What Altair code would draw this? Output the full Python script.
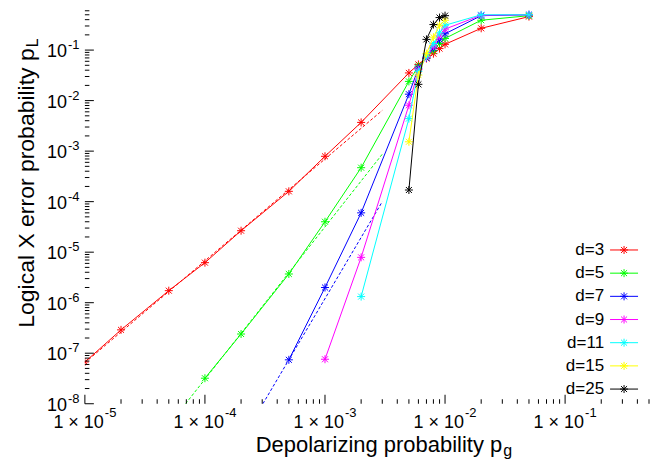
import altair as alt
import pandas as pd

labels = ["d=3", "d=5", "d=7", "d=9", "d=11", "d=15", "d=25"]
colors = ["#ff0000", "#00ff00", "#0000ff", "#ff00ff", "#00ffff", "#ffff00", "#000000"]

p_d3 = [1e-5, 2e-5, 5e-5, 1e-4, 2e-4, 5e-4, 1e-3, 2e-3, 5e-3, 6e-3, 7e-3, 8e-3, 9e-3, 1e-2, 2e-2, 5e-2]
pl_d3 = [6.7e-8, 2.9e-7, 1.73e-6, 6.2e-6, 2.66e-5, 1.6e-4, 7.9e-4, 3.7e-3, 0.0353, 0.052, 0.068, 0.085, 0.107, 0.13, 0.27, 0.46]
p_d5 = [1e-4, 2e-4, 5e-4, 1e-3, 2e-3, 5e-3, 6e-3, 7e-3, 8e-3, 9e-3, 1e-2, 2e-2, 5e-2]
pl_d5 = [3.2e-8, 2.4e-7, 3.7e-6, 4.0e-5, 4.7e-4, 0.024, 0.048, 0.07, 0.098, 0.135, 0.17, 0.39, 0.48]
p_d7 = [5e-4, 1e-3, 2e-3, 5e-3, 6e-3, 7e-3, 8e-3, 9e-3, 1e-2, 2e-2, 5e-2]
pl_d7 = [7.4e-8, 2.0e-6, 6.0e-5, 0.0134, 0.044, 0.07, 0.11, 0.16, 0.21, 0.48, 0.5]
p_d9 = [1e-3, 2e-3, 5e-3, 6e-3, 7e-3, 8e-3, 9e-3, 1e-2, 2e-2, 5e-2]
pl_d9 = [7.6e-8, 7.9e-6, 0.0081, 0.041, 0.072, 0.12, 0.19, 0.26, 0.49, 0.5]
p_d11 = [2e-3, 5e-3, 6e-3, 7e-3, 8e-3, 9e-3, 1e-2, 2e-2, 5e-2]
pl_d11 = [1.32e-6, 0.0044, 0.038, 0.075, 0.135, 0.22, 0.31, 0.5, 0.5]
p_d15 = [5e-3, 6e-3, 7e-3, 8e-3, 9e-3, 1e-2]
pl_d15 = [1.53e-3, 0.032, 0.085, 0.18, 0.31, 0.39]
p_d25 = [5e-3, 6e-3, 7e-3, 8e-3, 9e-3, 1e-2]
pl_d25 = [1.7e-4, 0.021, 0.163, 0.32, 0.44, 0.48]

# dashed fit lines (start / end points)
fit_labels = ["d=3", "d=5", "d=7"]
fit_p_start = [1e-5, 6.9e-5, 3.04e-4]
fit_pl_start = [6.5e-8, 1e-8, 1e-8]
fit_p_end = [3e-3, 3e-3, 3e-3]
fit_pl_end = [6.4e-3, 8.7e-4, 1.0e-4]

x_major = [1e-5, 1e-4, 1e-3, 1e-2, 1e-1]
x_major_exp = ["-5", "-4", "-3", "-2", "-1"]
y_major = [1e-8, 1e-7, 1e-6, 1e-5, 1e-4, 1e-3, 1e-2, 1e-1]
y_major_exp = ["-8", "-7", "-6", "-5", "-4", "-3", "-2", "-1"]

x_title = "Depolarizing probability p"
x_title_sub = "g"
y_title = "Logical X error probability p"
y_title_sub = "L"

FONT = "Liberation Sans"
W, H = 565, 396
XMIN, XMAX = 1e-5, 0.5
YMIN, YMAX = 1e-8, 0.67
ASTER = "M-1,0L1,0M0,-1L0,1M-0.75,-0.75L0.75,0.75M-0.75,0.75L0.75,-0.75"

series = [(labels[0], p_d3, pl_d3), (labels[1], p_d5, pl_d5), (labels[2], p_d7, pl_d7),
          (labels[3], p_d9, pl_d9), (labels[4], p_d11, pl_d11), (labels[5], p_d15, pl_d15),
          (labels[6], p_d25, pl_d25)]
rows = []
for lab, ps, pls in series:
    for a, b in zip(ps, pls):
        rows.append({"d": lab, "p": a, "pL": b})
df = pd.DataFrame(rows)

fit_rows = []
for lab, a0, b0, a1, b1 in zip(fit_labels, fit_p_start, fit_pl_start, fit_p_end, fit_pl_end):
    fit_rows.append({"d": lab, "p": a0, "pL": b0})
    fit_rows.append({"d": lab, "p": a1, "pL": b1})
fit_df = pd.DataFrame(fit_rows)

x_minor = [m * 10.0 ** k for k in range(-5, 0) for m in range(2, 10) if m * 10.0 ** k <= XMAX * 1.0001]
y_minor = [m * 10.0 ** k for k in range(-8, 0) for m in range(2, 10) if m * 10.0 ** k <= YMAX]

xs = alt.Scale(type="log", domain=[XMIN, XMAX], nice=False)
ys = alt.Scale(type="log", domain=[YMIN, YMAX], nice=False)
cs = alt.Scale(domain=labels, range=colors)

base_axis = alt.Axis(labels=False, ticks=False, grid=False, title=None,
                     domainColor="black", domainWidth=1)

layers = []
# frame axes (domain lines only)
layers.append(
    alt.Chart(df).mark_line(opacity=0).encode(
        x=alt.X("p:Q", scale=xs, axis=base_axis),
        y=alt.Y("pL:Q", scale=ys, axis=base_axis),
    )
)
# fit lines
layers.append(
    alt.Chart(fit_df).mark_line(strokeWidth=1, strokeDash=[3, 2], clip=True).encode(
        x=alt.X("p:Q", scale=xs, axis=None),
        y=alt.Y("pL:Q", scale=ys, axis=None),
        color=alt.Color("d:N", scale=cs, legend=None),
        detail="d:N",
    )
)
for lab in labels:
    sub = alt.Chart(df).transform_filter(alt.datum.d == lab)
    layers.append(
        sub.mark_line(strokeWidth=1, clip=True).encode(
            x=alt.X("p:Q", scale=xs, axis=None),
            y=alt.Y("pL:Q", scale=ys, axis=None),
            color=alt.Color("d:N", scale=cs, legend=None),
        )
    )
    layers.append(
        sub.mark_point(shape=ASTER, filled=False, size=64, strokeWidth=1, opacity=1, clip=True).encode(
            x=alt.X("p:Q", scale=xs, axis=None),
            y=alt.Y("pL:Q", scale=ys, axis=None),
            color=alt.Color("d:N", scale=cs, legend=None),
        )
    )

# inward ticks
xmaj_df = pd.DataFrame({"v": x_major, "e": x_major_exp})
ymaj_df = pd.DataFrame({"v": y_major, "e": y_major_exp})
xmin_df = pd.DataFrame({"v": x_minor})
ymin_df = pd.DataFrame({"v": y_minor})

layers.append(alt.Chart(xmaj_df).mark_rule(color="black", strokeWidth=1).encode(
    x=alt.X("v:Q", scale=xs, axis=None), y=alt.value(H), y2=alt.value(H - 9)))
layers.append(alt.Chart(xmin_df).mark_rule(color="black", strokeWidth=1).encode(
    x=alt.X("v:Q", scale=xs, axis=None), y=alt.value(H), y2=alt.value(H - 4.5)))
layers.append(alt.Chart(ymaj_df).mark_rule(color="black", strokeWidth=1).encode(
    y=alt.Y("v:Q", scale=ys, axis=None), x=alt.value(0), x2=alt.value(9)))
layers.append(alt.Chart(ymin_df).mark_rule(color="black", strokeWidth=1).encode(
    y=alt.Y("v:Q", scale=ys, axis=None), x=alt.value(0), x2=alt.value(4.5)))

# tick labels
layers.append(alt.Chart(ymaj_df).mark_text(align="right", baseline="alphabetic", fontSize=18,
                                            font=FONT, text="10", dy=7, color="black").encode(
    y=alt.Y("v:Q", scale=ys, axis=None), x=alt.value(-18)))
layers.append(alt.Chart(ymaj_df).mark_text(align="left", baseline="alphabetic", fontSize=13,
                                            font=FONT, dy=-1, color="black").encode(
    y=alt.Y("v:Q", scale=ys, axis=None), x=alt.value(-17), text="e:N"))
layers.append(alt.Chart(xmaj_df).mark_text(align="right", baseline="alphabetic", fontSize=18,
                                            font=FONT, text="1 × 10", dx=19, color="black").encode(
    x=alt.X("v:Q", scale=xs, axis=None), y=alt.value(H + 24)))
layers.append(alt.Chart(xmaj_df).mark_text(align="left", baseline="alphabetic", fontSize=13,
                                            font=FONT, dx=20, color="black").encode(
    x=alt.X("v:Q", scale=xs, axis=None), y=alt.value(H + 13), text="e:N"))

# axis titles
xt_df = pd.DataFrame({"t": [x_title], "s": [x_title_sub]})
yt_df = pd.DataFrame({"t": [y_title], "s": [y_title_sub]})
layers.append(alt.Chart(xt_df).mark_text(align="right", baseline="alphabetic", fontSize=22,
                                          font=FONT, color="black").encode(
    text="t:N", x=alt.value(418), y=alt.value(H + 48)))
layers.append(alt.Chart(xt_df).mark_text(align="left", baseline="alphabetic", fontSize=16,
                                          font=FONT, dx=1, dy=4, color="black").encode(
    text="s:N", x=alt.value(418), y=alt.value(H + 48)))
layers.append(alt.Chart(yt_df).mark_text(align="right", baseline="middle", fontSize=23, angle=270,
                                          font=FONT, color="black").encode(
    text="t:N", x=alt.value(-58), y=alt.value(40)))
layers.append(alt.Chart(yt_df).mark_text(align="left", baseline="middle", fontSize=16, angle=270,
                                          font=FONT, dx=1, dy=6, color="black").encode(
    text="s:N", x=alt.value(-58), y=alt.value(40)))

data_layer = alt.layer(*layers)

# legend (bottom right, label left of sample)
leg_df = pd.DataFrame({"d": labels})
ly = alt.Y("d:N", scale=alt.Scale(type="point", domain=labels, range=[242, 381.3], padding=0), axis=None)
legend_layer = alt.layer(
    alt.Chart(leg_df).mark_text(align="right", baseline="middle", fontSize=17, font=FONT, color="black").encode(
        y=ly, x=alt.value(520), text="d:N"),
    alt.Chart(leg_df).mark_rule(strokeWidth=1).encode(
        y=ly, x=alt.value(526), x2=alt.value(554), color=alt.Color("d:N", scale=cs, legend=None)),
    alt.Chart(leg_df).mark_point(shape=ASTER, filled=False, size=64, strokeWidth=1, opacity=1).encode(
        y=ly, x=alt.value(540), color=alt.Color("d:N", scale=cs, legend=None)),
)

chart = alt.layer(data_layer, legend_layer).resolve_scale(y="independent").properties(
    width=W, height=H,
    autosize=alt.AutoSizeParams(type="none"),
    padding={"left": 77, "top": 0, "right": 10, "bottom": 57},
).configure_view(stroke=None)

chart.save("out.html", embed_options={"renderer": "svg", "actions": False})
